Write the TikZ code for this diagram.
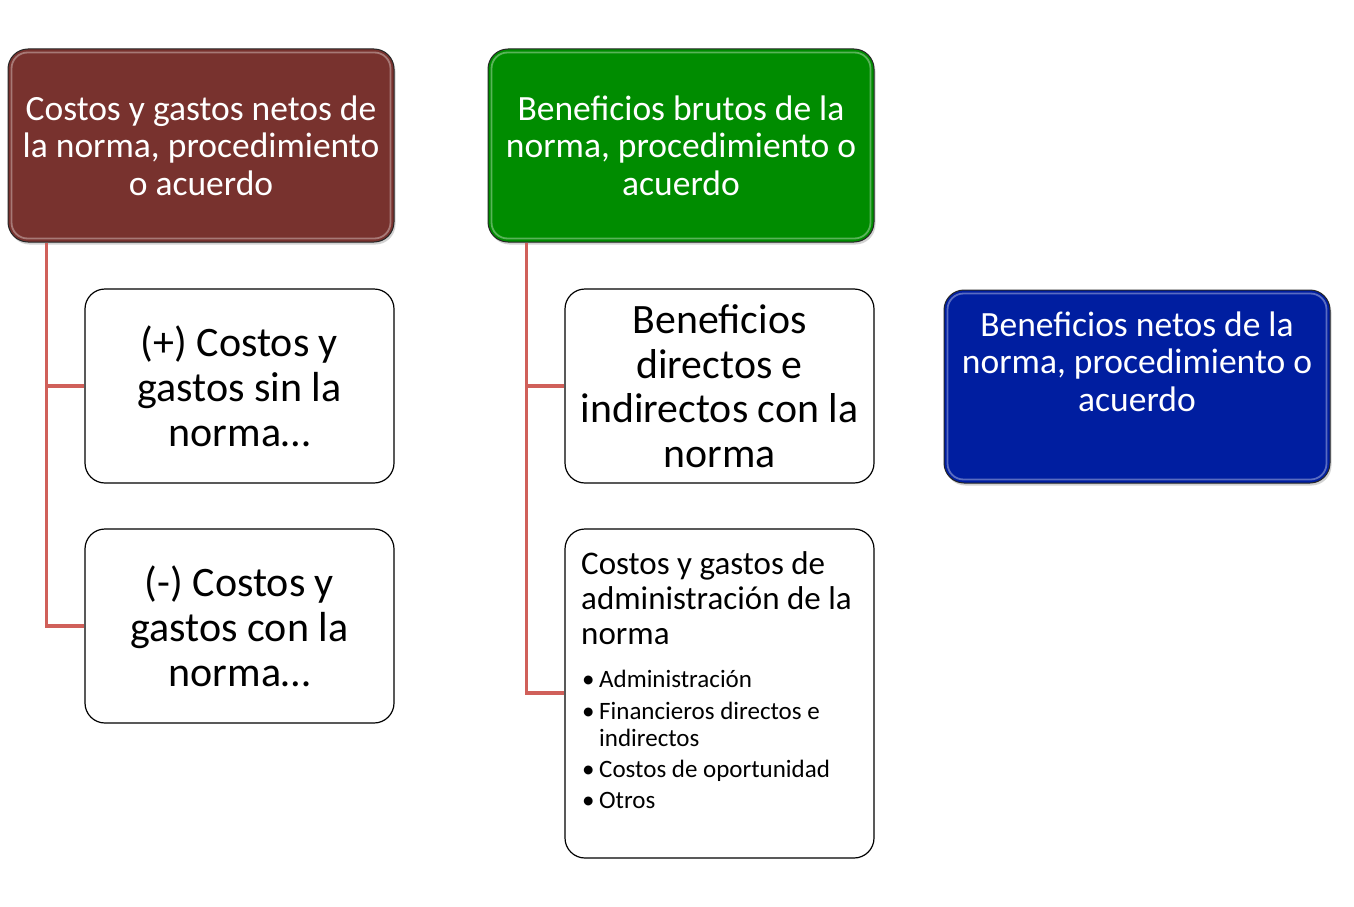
\documentclass[tikz,border=0pt]{standalone}
\usepackage{fontspec}
\setmainfont{Carlito}
\usetikzlibrary{shadows,calc}
\definecolor{hmaroon}{RGB}{120,50,46}
\definecolor{hgreen}{RGB}{0,140,0}
\definecolor{hblue}{RGB}{0,30,160}
\definecolor{connred}{RGB}{208,96,90}
\newcommand{\bitem}[1]{\hangindent=18pt\hangafter=1\noindent\makebox[18pt][l]{\hspace{1pt}•}#1\par}
\tikzset{
  hdr/.style={draw=black!85, line width=1pt, rounded corners=20pt,
    minimum width=386pt, minimum height=193pt, inner sep=0pt,
    drop shadow={shadow xshift=1.5pt,shadow yshift=-2.5pt,opacity=0.35}},
  bevel/.style={draw=white, opacity=0.35, line width=1.8pt, rounded corners=16pt},
  kid/.style={draw=black, line width=1.2pt, rounded corners=20pt, fill=white,
    minimum width=309pt, minimum height=194pt, inner sep=0pt},
  conn/.style={draw=connred, line width=3.5pt},
  htext/.style={text=white, font=\fontsize{35.5}{37.5}\selectfont, align=center},
  ktext/.style={font=\fontsize{42}{45}\selectfont, align=center},
}
\begin{document}
\begin{tikzpicture}[x=1pt,y=-1pt]
\useasboundingbox[fill=white] (0,0) rectangle (1354,907);

% headers
\node[hdr, fill=hmaroon, htext] (h1) at (201,145.5) {Costos y gastos netos de\\la norma, procedimiento\\o acuerdo};
\draw[bevel] ([shift={(4pt,-4pt)}]h1.north west) rectangle ([shift={(-4pt,4pt)}]h1.south east);

\node[hdr, fill=hgreen, htext] (h2) at (681,145.5) {Beneficios brutos de la\\norma, procedimiento o\\acuerdo};
\draw[bevel] ([shift={(4pt,-4pt)}]h2.north west) rectangle ([shift={(-4pt,4pt)}]h2.south east);

\node[hdr, fill=hblue] (h3) at (1137,386.5) {};
\draw[bevel] ([shift={(4pt,-4pt)}]h3.north west) rectangle ([shift={(-4pt,4pt)}]h3.south east);
\node[htext, anchor=north, inner sep=0pt] (h3t) at (1137,311.5) {Beneficios netos de la\\norma, procedimiento o\\acuerdo};

% children
\node[kid, ktext] (c1) at (239.5,386) {(+) Costos y\\gastos sin la\\norma…};
\node[kid, ktext] (c2) at (239.5,626) {(-) Costos y\\gastos con la\\norma…};
\node[kid, font=\fontsize{41.8}{44.5}\selectfont, align=center] (c3) at (719.5,386) {Beneficios\\directos e\\indirectos con la\\norma};
\node[kid, minimum height=329pt] (c4) at (719.5,693.5) {};
\node[anchor=north west, inner sep=0pt] (c4t) at (581,551.5)
  {\parbox[t]{290pt}{\raggedright
   \fontsize{33}{35}\selectfont
   Costos y gastos de\newline administración de la\newline norma\par\vspace{16pt}%
   \fontsize{25}{27}\selectfont
   \bitem{Administración}\vspace{4.5pt}
   \bitem{Financieros directos e\newline indirectos}\vspace{4pt}
   \bitem{Costos de oportunidad}\vspace{4pt}
   \bitem{Otros}}};

% connectors
\draw[conn] ([xshift=39pt]h1.south west) |- (c1.west);
\draw[conn] ([xshift=39pt]h1.south west) |- (c2.west);
\draw[conn] ([xshift=39pt]h2.south west) |- (c3.west);
\draw[conn] ([xshift=39pt]h2.south west) |- (c4.west |- 0,693);
\end{tikzpicture}
\end{document}
